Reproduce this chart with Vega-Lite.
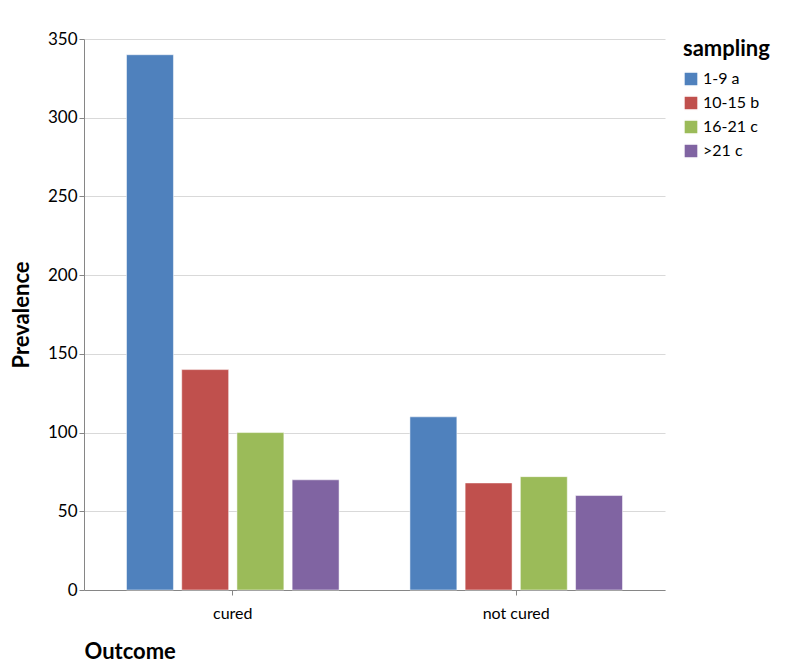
{
  "$schema": "https://vega.github.io/schema/vega-lite/v6.json",
  "width": 785,
  "height": 672,
  "autosize": {"type": "fit", "contains": "padding"},
  "padding": {"left": 10, "right": 15, "top": 30, "bottom": 10},
  "background": "white",
  "config": {
    "font": "Lato",
    "view": {"stroke": null},
    "axis": {"labelFont": "Lato", "titleFont": "Lato", "labelColor": "#000", "titleColor": "#000"}
  },
  "data": {
    "values": [
      {"outcome": "cured", "sampling": "1-9 a", "prevalence": 340},
      {"outcome": "cured", "sampling": "10-15 b", "prevalence": 140},
      {"outcome": "cured", "sampling": "16-21 c", "prevalence": 100},
      {"outcome": "cured", "sampling": ">21 c", "prevalence": 70},
      {"outcome": "not cured", "sampling": "1-9 a", "prevalence": 110},
      {"outcome": "not cured", "sampling": "10-15 b", "prevalence": 68},
      {"outcome": "not cured", "sampling": "16-21 c", "prevalence": 72},
      {"outcome": "not cured", "sampling": ">21 c", "prevalence": 60}
    ]
  },
  "mark": {"type": "bar", "stroke": "#ffffff", "strokeWidth": 0.5},
  "encoding": {
    "x": {
      "field": "outcome", "type": "nominal", "title": "Outcome",
      "scale": {"paddingInner": 0.25, "paddingOuter": 0.15},
      "axis": {"labelAngle": 0, "labelFontSize": 16, "titleFontSize": 22, "titleFontWeight": "bold",
               "titlePadding": 20, "titleAnchor": "start", "domainColor": "#868686",
               "tickColor": "#868686", "labelPadding": 10}
    },
    "xOffset": {
      "field": "sampling", "type": "nominal",
      "sort": ["1-9 a", "10-15 b", "16-21 c", ">21 c"],
      "scale": {"paddingInner": 0.15}
    },
    "y": {
      "field": "prevalence", "type": "quantitative", "title": "Prevalence",
      "scale": {"domain": [0, 350]},
      "axis": {"values": [0, 50, 100, 150, 200, 250, 300, 350], "labelFontSize": 17,
               "titleFontSize": 22, "titleFontWeight": "bold", "titlePadding": 14,
               "gridColor": "#d9d9d9", "domainColor": "#868686", "tickColor": "#868686"}
    },
    "color": {
      "field": "sampling", "type": "nominal", "title": "sampling",
      "sort": ["1-9 a", "10-15 b", "16-21 c", ">21 c"],
      "scale": {"domain": ["1-9 a", "10-15 b", "16-21 c", ">21 c"],
                "range": ["#4f81bd", "#c0504d", "#9bbb59", "#8064a2"]},
      "legend": {"titleFontSize": 22, "titleFontWeight": "bold", "labelFontSize": 16,
                 "symbolType": "square", "symbolSize": 200, "orient": "right", "titlePadding": 10}
    }
  }
}
